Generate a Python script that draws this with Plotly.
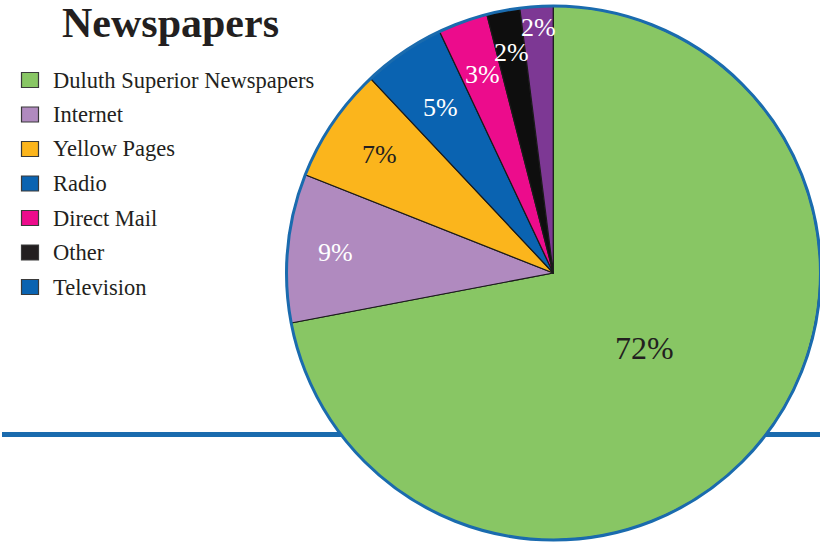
import math
import plotly.graph_objects as go

# ---- data ----
categories = ["Duluth Superior Newspapers", "Internet", "Yellow Pages", "Radio",
              "Direct Mail", "Other", "Television"]
values = [72, 9, 7, 5, 3, 2, 2]
slice_colors = ["#88C664", "#B08ABF", "#FBB51C", "#0A63B1", "#EC0C8C", "#0E0E0E", "#7D3894"]
legend_colors = ["#88C664", "#B08ABF", "#FBB51C", "#0A63B1", "#EC0C8C", "#231F20", "#0A63B1"]
label_colors = ["#231F20", "white", "#231F20", "white", "white", "white", "white"]
label_sizes = [32, 26, 26, 26, 26, 26, 26]
label_radial = [0.44, 0.82, 0.79, 0.75, 0.79, 0.84, 0.92]
title_text = "Newspapers"

W, H = 820, 545
CX, CY, R = 553.5, 273, 267  # pie center/radius in px

fig = go.Figure()
fig.add_trace(go.Pie(
    labels=categories, values=values, sort=False, direction="clockwise", rotation=0,
    marker=dict(colors=slice_colors, line=dict(color="#1a1a1a", width=1.2)),
    textinfo="none", hoverinfo="label+percent", showlegend=False,
    domain=dict(x=[(CX - R) / W, min(1, (CX + R) / W)], y=[(H - CY - R) / H, (H - CY + R) / H]),
))

shapes = []
# horizontal blue rule behind the pie
shapes.append(dict(type="line", xref="paper", yref="paper", x0=2 / W, x1=1, y0=(H - 434.5) / H, y1=(H - 434.5) / H,
                   line=dict(color="#1A6BAE", width=5), layer="below"))
# outer blue outline of the pie
shapes.append(dict(type="circle", xref="paper", yref="paper",
                   x0=(CX - R) / W, x1=(CX + R) / W, y0=(H - CY - R) / H, y1=(H - CY + R) / H,
                   line=dict(color="#1A6BAE", width=3), layer="above"))

annotations = []
# slice labels from data (angles clockwise from 12 o'clock)
total = sum(values)
cum = 0
for v, col, sz, rf in zip(values, label_colors, label_sizes, label_radial):
    mid = (cum + v / 2) / total * 2 * math.pi
    cum += v
    px = CX + rf * R * math.sin(mid)
    py = CY - rf * R * math.cos(mid)
    annotations.append(dict(x=px / W, y=(H - py) / H, xref="paper", yref="paper",
                            xanchor="center", yanchor="middle",
                            text=f"{round(v / total * 100)}%", showarrow=False,
                            font=dict(family="Liberation Serif", size=sz, color=col)))

# custom legend
y0, dy = 80, 34.5
for i, (name, col) in enumerate(zip(categories, legend_colors)):
    yc = y0 + i * dy
    shapes.append(dict(type="rect", xref="paper", yref="paper",
                       x0=21.5 / W, x1=38.5 / W, y0=(H - yc - 7.5) / H, y1=(H - yc + 7.5) / H,
                       fillcolor=col, line=dict(color="#3a3a3a", width=1.2)))
    annotations.append(dict(x=51 / W, y=(H - yc) / H, xref="paper", yref="paper", xanchor="left",
                            yanchor="middle", text=name, showarrow=False,
                            font=dict(family="Liberation Serif", size=22.5, color="#231F20")))

# title
annotations.append(dict(x=60 / W, y=(H - 23) / H, xref="paper", yref="paper", xanchor="left",
                        yanchor="middle", text=f"<b>{title_text}</b>", showarrow=False,
                        font=dict(family="Liberation Serif", size=42, color="#231F20")))

fig.update_layout(width=W, height=H, margin=dict(l=0, r=0, t=0, b=0),
                  paper_bgcolor="white", plot_bgcolor="white",
                  shapes=shapes, annotations=annotations)

fig.write_html("out.html", config={"displayModeBar": False},
               post_script="document.body.style.margin='0';")
